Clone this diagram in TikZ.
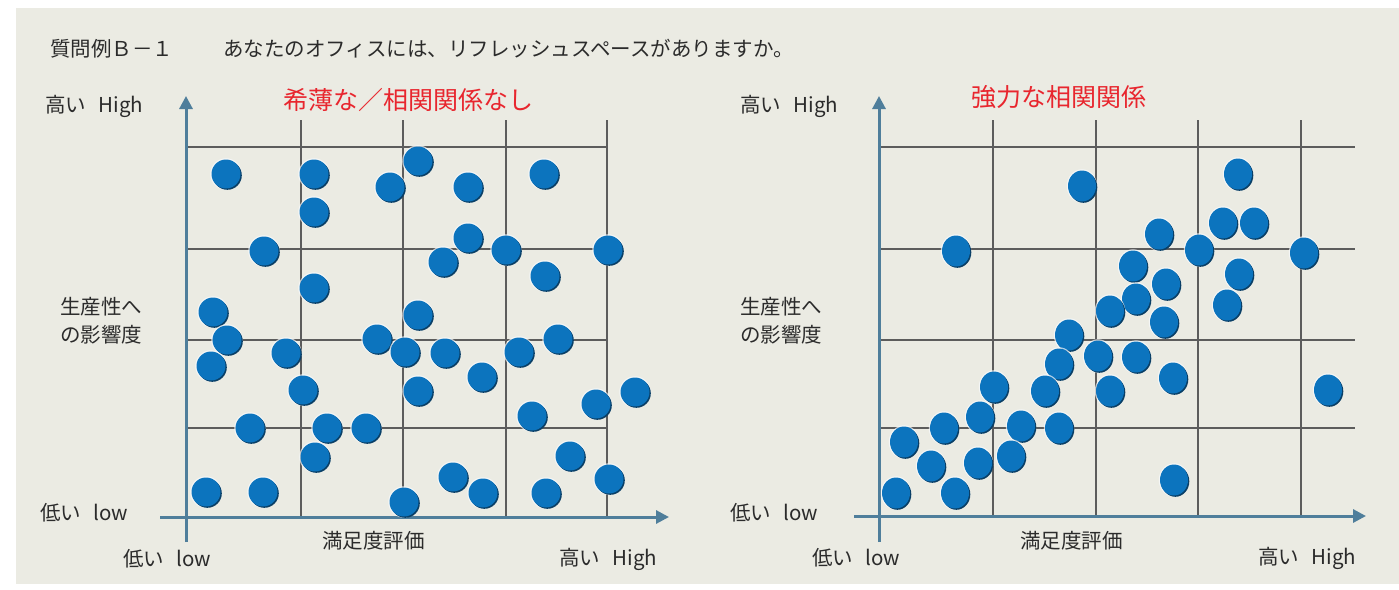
\documentclass[tikz,border=0pt]{standalone}
\usepackage{fontspec}
\setmainfont{Noto Sans CJK JP}
\usetikzlibrary{arrows.meta,shapes.geometric,shadows}
\definecolor{panel}{HTML}{EBEBE3}
\definecolor{axiscol}{HTML}{4F7E9B}
\definecolor{gridcol}{HTML}{5C5C5C}
\definecolor{dotblue}{HTML}{0C74BE}
\definecolor{dotdark}{HTML}{0A3F66}
\definecolor{halo}{HTML}{F8FBFF}
\definecolor{redtitle}{HTML}{E8262E}
\definecolor{txt}{HTML}{2B2B2B}
\begin{document}
\begin{tikzpicture}[x=1pt,y=-1pt,
  axis/.style={draw=axiscol, line width=3pt, -{Triangle[length=13pt,width=13pt]}},
  gridline/.style={draw=gridcol, line width=1.3pt},
  lbl/.style={inner sep=0pt, anchor=west, text=txt, font=\fontsize{20.5}{28}\selectfont},
  ttl/.style={inner sep=0pt, anchor=west, text=redtitle, font=\fontsize{25}{30}\selectfont},
  dotbase/.style={inner sep=0pt, fill=dotblue,
    preaction={draw=halo, line width=2.5pt, draw opacity=0.7},
    drop shadow={shadow xshift=1.3pt, shadow yshift=-1.3pt, fill=dotdark, opacity=1}},
  dotL/.style={dotbase, circle, minimum size=29pt},
  dotR/.style={dotbase, ellipse, minimum width=28pt, minimum height=31pt}
]
\useasboundingbox (0,0) rectangle (1399,589);
\fill[white] (0,0) rectangle (1399,589);
\fill[panel] (16,8) rectangle (1399,584);

% grids
\foreach \gx in {301,403,506,607} \draw[gridline] (\gx,120) -- (\gx,517);
\foreach \gy in {147,249,340,428} \draw[gridline] (186,\gy) -- (608,\gy);
\foreach \gx in {993,1096,1198,1301} \draw[gridline] (\gx,120) -- (\gx,516);
\foreach \gy in {147,249,340,428} \draw[gridline] (879,\gy) -- (1355,\gy);

% axes
\coordinate (Ly0) at (186,542); \coordinate (Ly1) at (186,96);
\coordinate (Lx0) at (160,517); \coordinate (Lx1) at (669,517);
\coordinate (Ry0) at (879,542); \coordinate (Ry1) at (879,96);
\coordinate (Rx0) at (854,516); \coordinate (Rx1) at (1366,516);
\draw[axis] (Ly0) -- (Ly1);
\draw[axis] (Lx0) -- (Lx1);
\draw[axis] (Ry0) -- (Ry1);
\draw[axis] (Rx0) -- (Rx1);

% texts
\node[lbl] (q1) at (50,49) {質問例Ｂ－１};
\node[lbl] (q2) at (223,49) {あなたのオフィスには、リフレッシュスペースがありますか。};

\node[lbl] (LyH) at (45,106) {高い\hspace{0.6em}High};
\node[ttl] (Lt) at (283,100) {希薄な／相関関係なし};
\node[lbl, align=left] (Lyl) at (60,321) {生産性へ\\の影響度};
\node[lbl] (LyL) at (40,513) {低い\hspace{0.6em}low};
\node[lbl] (LxL) at (123,559) {低い\hspace{0.6em}low};
\node[lbl] (Lxl) at (322,541) {満足度評価};
\node[lbl] (LxH) at (559,559) {高い\hspace{0.6em}High};

\node[lbl] (RyH) at (740,106) {高い\hspace{0.6em}High};
\node[ttl] (Rt) at (971,97) {強力な相関関係};
\node[lbl, align=left] (Ryl) at (740,321) {生産性へ\\の影響度};
\node[lbl] (RyL) at (730,513) {低い\hspace{0.6em}low};
\node[lbl] (RxL) at (812,558) {低い\hspace{0.6em}low};
\node[lbl] (Rxl) at (1020,541) {満足度評価};
\node[lbl] (RxH) at (1258,558) {高い\hspace{0.6em}High};

% dots left
\foreach \px/\py [count=\i] in {226/174,314/174,314/212,390/187,418/161,468/187,544/174,264/251,468/238,443/262,506/250,608/250,545/276,314/288,213/312,418/315,227/340,377/339,558/339,211/366,286/353,405/352,445/353,519/352,303/390,418/391,482/377,635/392,596/404,532/416,250/428,327/428,366/428,315/457,570/456,453/477,483/493,546/493,609/479,206/492,263/492,404/502}
  \node[dotL] (L\i) at (\px,\py) {};

% dots right
\foreach \px/\py [count=\i] in {1082/186,1238/174,956/251,1223/223,1254/223,1159/234,1199/250,1304/253,1133/266,1239/274,1166/284,1136/299,1110/311,1227/305,1164/322,1069/335,1098/356,1136/357,1173/378,1059/364,1045/391,1110/391,1328/390,994/387,980/417,1021/426,1059/428,944/428,904/442,931/466,978/463,1011/456,1174/480,896/493,955/493}
  \node[dotR] (R\i) at (\px,\py) {};
\end{tikzpicture}
\end{document}
